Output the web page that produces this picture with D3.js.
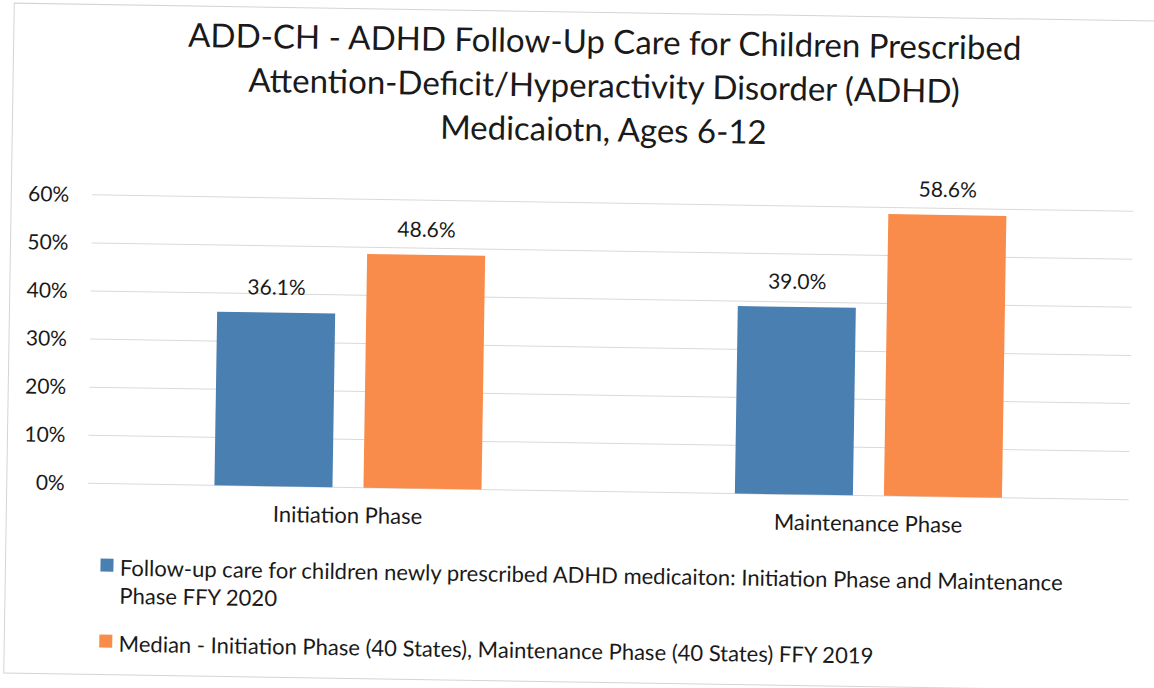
<!DOCTYPE html>
<html>
<head>
<meta charset="utf-8">
<script src="https://cdn.jsdelivr.net/npm/d3@7"></script>
<style>
  html, body { margin: 0; padding: 0; background: #ffffff; }
  svg { display: block; font-family: Lato, "Open Sans", sans-serif; }
</style>
</head>
<body>
<svg id="chart" width="1154" height="688"></svg>
<script>
// ---- data ----
const titleLines = [
  "ADD-CH - ADHD Follow-Up Care for Children Prescribed",
  "Attention-Deficit/Hyperactivity Disorder (ADHD)",
  "Medicaiotn, Ages 6-12"
];
const categories = ["Initiation Phase", "Maintenance Phase"];
const seriesNames = [
  "Follow-up care for children newly prescribed ADHD medicaiton: Initiation Phase and Maintenance Phase FFY 2020",
  "Median - Initiation Phase (40 States), Maintenance Phase (40 States) FFY 2019"
];
const legendLines = [
  ["Follow-up care for children newly prescribed ADHD medicaiton: Initiation Phase and Maintenance", "Phase FFY 2020"],
  ["Median - Initiation Phase (40 States), Maintenance Phase (40 States) FFY 2019"]
];
const followUpFFY2020 = [36.1, 39.0];
const medianFFY2019 = [48.6, 58.6];
const yTicks = [0, 10, 20, 30, 40, 50, 60];
const seriesColors = ["#4a7fb2", "#f98b4b"];

// ---- layout ----
const plot = { left: 90, right: 1131, top: 202.5, bottom: 491 };
const svg = d3.select("#chart");
const root = svg.append("g").attr("transform", "rotate(0.9, 577, 344)");

// border
root.append("rect")
  .attr("x", 9).attr("y", 12).attr("width", 1160).attr("height", 670)
  .attr("fill", "none").attr("stroke", "#d4d4d4").attr("stroke-width", 1);

// title
root.append("g").selectAll("text").data(titleLines).join("text")
  .attr("x", 600)
  .attr("y", (d, i) => 53 + i * 44)
  .attr("text-anchor", "middle")
  .attr("font-size", 33)
  .attr("fill", "#1a1a1a")
  .text(d => d);

// scales
const y = d3.scaleLinear().domain([0, 60]).range([plot.bottom, plot.top]);
const x0 = d3.scaleBand().domain(categories).range([plot.left, plot.right]).padding(0);
const seriesKeys = [0, 1];
const x1 = d3.scaleBand().domain(seriesKeys).range([0, x0.bandwidth()])
  .paddingInner(0.208).paddingOuter(0.85);

// gridlines
root.append("g").selectAll("line").data(yTicks).join("line")
  .attr("x1", plot.left).attr("x2", plot.right)
  .attr("y1", d => y(d)).attr("y2", d => y(d))
  .attr("stroke", "#d9d9d9").attr("stroke-width", 1);

// y axis labels
const yAxis = d3.axisLeft(y).tickValues(yTicks).tickFormat(d => d + "%").tickSize(0).tickPadding(23);
const yg = root.append("g").attr("transform", `translate(${plot.left},0)`).call(yAxis);
yg.select(".domain").remove();
yg.selectAll("text").attr("font-size", 21).attr("fill", "#1a1a1a").attr("font-family", "Lato, sans-serif");

// x axis labels
const xAxis = d3.axisBottom(x0).tickSize(0).tickPadding(20);
const xg = root.append("g").attr("transform", `translate(0,${plot.bottom})`).call(xAxis);
xg.select(".domain").remove();
xg.selectAll("text").attr("font-size", 22).attr("fill", "#1a1a1a").attr("font-family", "Lato, sans-serif");

// bars
const rows = categories.map((c, i) => ({ cat: c, vals: [followUpFFY2020[i], medianFFY2019[i]] }));
const groups = root.append("g").selectAll("g").data(rows).join("g")
  .attr("transform", d => `translate(${x0(d.cat)},0)`);
groups.selectAll("rect").data(d => d.vals.map((v, k) => ({ k, v }))).join("rect")
  .attr("x", d => x1(d.k))
  .attr("width", x1.bandwidth())
  .attr("y", d => y(d.v))
  .attr("height", d => y(0) - y(d.v))
  .attr("fill", d => seriesColors[d.k]);
groups.selectAll("text").data(d => d.vals.map((v, k) => ({ k, v }))).join("text")
  .attr("x", d => x1(d.k) + x1.bandwidth() / 2)
  .attr("y", d => y(d.v) - 18)
  .attr("text-anchor", "middle")
  .attr("font-size", 21)
  .attr("fill", "#1a1a1a")
  .text(d => d.v.toFixed(1) + "%");

// legend
const legendTop = [572.4, 648.4];
const lg = root.append("g").selectAll("g").data(seriesNames).join("g");
lg.append("rect")
  .attr("x", 104).attr("y", (d, i) => legendTop[i] - 6.5)
  .attr("width", 13).attr("height", 13)
  .attr("fill", (d, i) => seriesColors[i]);
lg.each(function (d, i) {
  d3.select(this).selectAll("text").data(legendLines[i]).join("text")
    .attr("x", 123.5)
    .attr("y", (t, j) => legendTop[i] + 10.5 + j * 28)
    .attr("font-size", 22)
    .attr("fill", "#1a1a1a")
    .text(t => t);
});
</script>
</body>
</html>
